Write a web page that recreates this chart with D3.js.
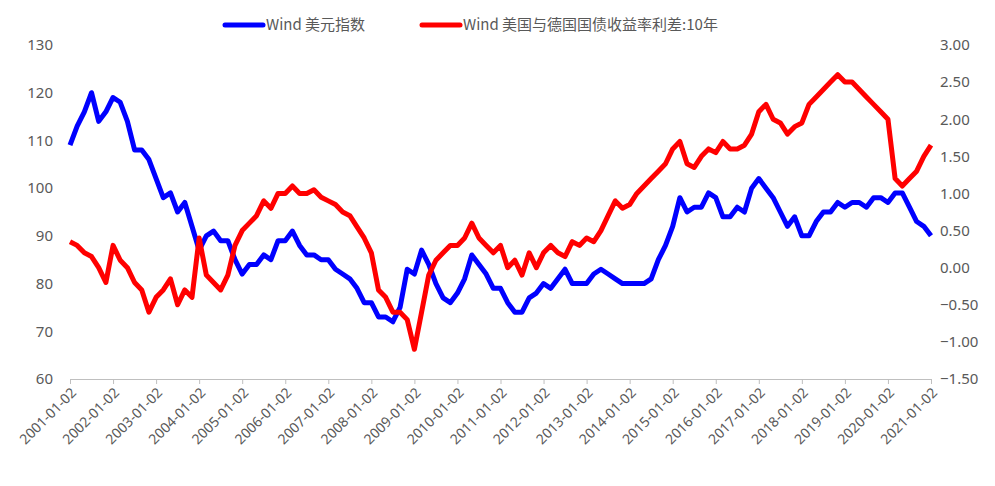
<!DOCTYPE html>
<html><head><meta charset="utf-8">
<script src="https://cdn.jsdelivr.net/npm/d3@7"></script>
<style>body{margin:0;background:#fff;font-family:"Noto Sans CJK SC","Noto Sans",sans-serif;}</style>
</head><body><div id="chart"></div>
<script>
// values sampled every two months from 2001-01 to 2021-01
const startYear = 2001, step = 1 / 6;
const dollarIndex = [109,113,116,120,114,116, 119,118,114,108,108,106, 102,98,99,95,97,92, 87,90,91,89,89,85,
  82,84,84,86,85,89, 89,91,88,86,86,85, 85,83,82,81,79,76, 76,73,73,72,75,83, 82,87,84,80,77,76,
  78,81,86,84,82,79, 79,76,74,74,77,78, 80,79,81,83,80,80, 80,82,83,82,81,80, 80,80,80,81,85,88,
  92,98,95,96,96,99, 98,94,94,96,95,100, 102,100,98,95,92,94, 90,90,93,95,95,97, 96,97,97,96,98,98,
  97,99,99,96,93,92, 90];
const yieldSpread = [0.35,0.3,0.2,0.15,0.0,-0.2, 0.3,0.1,0.0,-0.2,-0.3,-0.6, -0.4,-0.3,-0.15,-0.5,-0.3,-0.4,
  0.4,-0.1,-0.2,-0.3,-0.1,0.3, 0.5,0.6,0.7,0.9,0.8,1.0, 1.0,1.1,1.0,1.0,1.05,0.95, 0.9,0.85,0.75,0.7,0.55,0.4,
  0.2,-0.3,-0.4,-0.6,-0.6,-0.7, -1.1,-0.6,-0.1,0.1,0.2,0.3, 0.3,0.4,0.6,0.4,0.3,0.2, 0.3,0.0,0.1,-0.1,0.2,0.0,
  0.2,0.3,0.2,0.15,0.35,0.3, 0.4,0.35,0.5,0.7,0.9,0.8, 0.85,1.0,1.1,1.2,1.3,1.4, 1.6,1.7,1.4,1.35,1.5,1.6,
  1.55,1.7,1.6,1.6,1.65,1.8, 2.1,2.2,2.0,1.95,1.8,1.9, 1.95,2.2,2.3,2.4,2.5,2.6, 2.5,2.5,2.4,2.3,2.2,2.1,
  2.0,1.2,1.1,1.2,1.3,1.5, 1.65];
const years = d3.range(2001, 2022);
const leftTicks = [60,70,80,90,100,110,120,130];
const rightTicks = [-1.5,-1,-0.5,0,0.5,1,1.5,2,2.5,3];
const seriesNames = ["Wind 美元指数", "Wind 美国与德国国债收益率利差:10年"];

const W = 995, H = 486, m = {l: 70, r: 64, t: 45, b: 107};
const svg = d3.select("#chart").append("svg").attr("width", W).attr("height", H);
const x = d3.scaleLinear().domain([2001, 2021]).range([m.l, W - m.r]);
const yL = d3.scaleLinear().domain([60, 130]).range([H - m.b, m.t]);
const yR = d3.scaleLinear().domain([-1.5, 3]).range([H - m.b, m.t]);

// bottom axis
const xa = svg.append("g").attr("transform", `translate(0,${H - m.b})`)
  .call(d3.axisBottom(x).tickValues(years).tickSize(5).tickFormat(d => d + "-01-02"));
xa.select(".domain").attr("stroke", "#bfbfbf");
xa.selectAll("line").attr("stroke", "#bfbfbf");
xa.selectAll("text").attr("fill", "#595959").style("font-size", "14px").style("font-family", "Noto Sans")
  .attr("text-anchor", "end").attr("transform", "rotate(-45)").attr("dx", "-0.4em").attr("dy", "0.5em");

const ya = svg.append("g").attr("transform", `translate(${m.l - 14},0)`)
  .call(d3.axisLeft(yL).tickValues(leftTicks).tickSize(0));
const yb = svg.append("g").attr("transform", `translate(${W - m.r + 6},0)`)
  .call(d3.axisRight(yR).tickValues(rightTicks).tickSize(0).tickFormat(d3.format(".2f")));
[ya, yb].forEach(g => {
  g.select(".domain").remove();
  g.selectAll("text").attr("fill", "#595959").style("font-size", "15px").style("font-family", "Noto Sans");
});

const line = (ys) => d3.line().x((d, i) => x(startYear + i * step)).y(d => ys(d));
svg.append("path").datum(dollarIndex).attr("d", line(yL))
  .attr("fill", "none").attr("stroke", "#0000ff").attr("stroke-width", 5).attr("stroke-linejoin", "round");
svg.append("path").datum(yieldSpread).attr("d", line(yR))
  .attr("fill", "none").attr("stroke", "#ff0000").attr("stroke-width", 5).attr("stroke-linejoin", "round");

// legend
const legend = [{c: "#0000ff", x: 225}, {c: "#ff0000", x: 422}];
legend.forEach((d, i) => {
  svg.append("line").attr("x1", d.x).attr("x2", d.x + 38).attr("y1", 25).attr("y2", 25)
    .attr("stroke", d.c).attr("stroke-width", 5).attr("stroke-linecap", "round");
  svg.append("text").attr("x", d.x + 41).attr("y", 30).text(seriesNames[i])
    .attr("fill", "#595959").style("font-size", "15px");
});
</script></body></html>
